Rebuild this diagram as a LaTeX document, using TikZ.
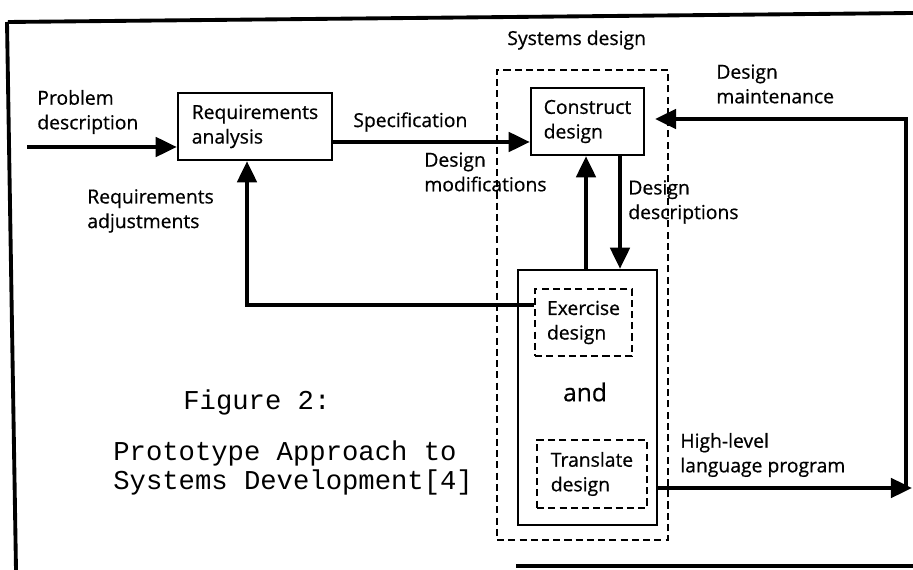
\documentclass[tikz,border=0pt]{standalone}
\usepackage{fontspec}
\setmainfont{Open Sans}[FakeBold=0.6]
\newfontfamily\typew{Liberation Mono}
\usetikzlibrary{arrows.meta}

\begin{document}
\begin{tikzpicture}[x=0.02cm,y=-0.02cm,
        txt/.style={font=\fontsize{11}{14}\selectfont,align=left,inner sep=0pt},
        box/.style={draw,line width=1.4pt,txt},
        dbox/.style={box,dash pattern=on 4pt off 2.4pt},
        flow/.style={line width=2.2pt,-{Triangle[length=12pt,width=11pt]}},
        frame/.style={line width=2.2pt},
        capt/.style={font=\typew\fontsize{15.5}{17}\selectfont,align=left,inner sep=0pt}]
            \useasboundingbox (0,0) rectangle (913,570);
            \draw[frame] (8,22) -- (913,13);
            \draw[frame] (7,22) -- (16,570);
            \draw[frame] (516,566) -- (913,566);

            \node[dbox,minimum width=3.42cm,minimum height=9.4cm] (sysdes) at (582.5,305) {};
            \node[box,minimum width=2.78cm,minimum height=5.1cm] (proto) at (587.5,397.5) {};
            \node[box,minimum width=3.08cm,minimum height=1.34cm] (req) at (255,126.5) {Requirements\\analysis};
            \node[box,minimum width=2.26cm,minimum height=1.34cm] (construct) at (587.5,121.5) {Construct\\design};
            \node[dbox,minimum width=1.94cm,minimum height=1.34cm] (exercise) at (583.5,322.5) {Exercise\\design};
            \node[dbox,minimum width=2.2cm,minimum height=1.36cm] (translate) at (592,474) {Translate\\design};
            \node[font=\fontsize{14}{16}\selectfont,inner sep=0pt] (andlbl) at (585,392) {and};

            \node[txt,anchor=west] (problbl) at (37,112) {Problem\\description};
            \node[txt,anchor=west] (speclbl) at (353,122) {Specification};
            \node[txt,anchor=west] (adjlbl) at (87,211) {Requirements\\adjustments};
            \node[txt,anchor=west] (syslbl) at (507,40) {Systems design};
            \node[txt,anchor=west] (maintlbl) at (716,84) {Design\\maintenance};
            \node[txt,anchor=west] (modlbl) at (424,172) {Design\\modifications};
            \node[txt,anchor=west] (desclbl) at (628,202) {Design\\descriptions};
            \node[txt,anchor=west] (hllbl) at (680,455) {High-level\\language program};
            \node[capt,anchor=base west] (figlbl) at (183,410) {Figure 2:};
            \node[capt,anchor=west] (caplbl) at (113,468) {Prototype Approach to\\Systems Development[4]};

            \coordinate (probin) at (27,147);
            \coordinate (specy) at (0,142);
            \coordinate (adjturn) at (247,305);
            \coordinate (hlout) at (912,488);
            \coordinate (mbot) at (906,486);
            \coordinate (mtop) at (906,119);
            \coordinate (mend) at (655,119);
            \coordinate (upx) at (586,0);
            \coordinate (downx) at (620,0);

            \draw[flow] (probin) -- (probin -| req.west);
            \draw[flow] (req.east |- specy) -- (construct.west |- specy);
            \draw[flow] (proto.north -| upx) -- (construct.south -| upx);
            \draw[flow] (construct.south -| downx) -- (proto.north -| downx);
            \draw[flow] (exercise.west |- adjturn) -- (adjturn) -- (adjturn |- req.south);
            \draw[flow] (proto.east |- hlout) -- (hlout);
            \draw[flow] (mbot) -- (mtop) -- (mend);
        \end{tikzpicture}
\end{document}
